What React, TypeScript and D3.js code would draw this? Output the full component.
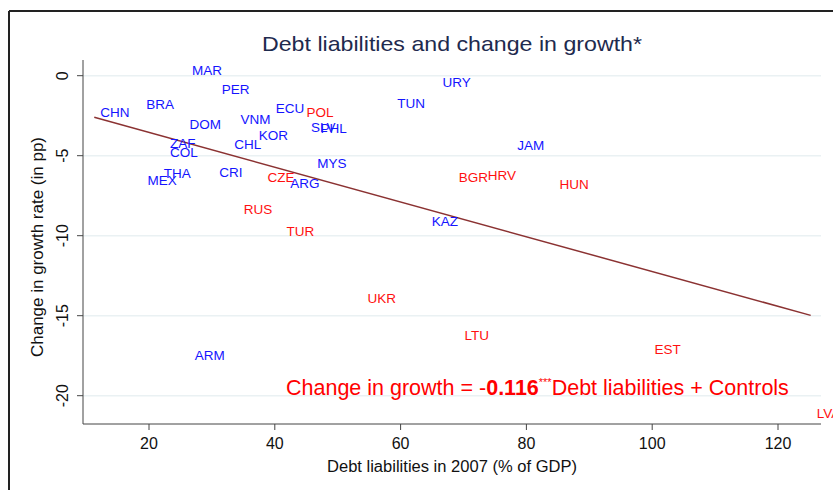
import React from "react";
import * as d3 from "d3";

const countries = ["MAR","PER","BRA","CHN","DOM","VNM","ECU","POL","SLV","PHL","KOR","CHL","ZAF","COL","MYS","THA","MEX","CRI","CZE","ARG","TUN","RUS","TUR","KAZ","URY","JAM","BGR","HRV","HUN","UKR","LTU","EST","ARM","LVA"];
const debtLiab = [25.9,30.6,18.6,11.3,25.5,33.6,39.2,44.1,44.8,46.3,36.5,32.6,22.4,22.4,45.8,21.4,18.8,30.2,37.9,41.5,58.5,34.1,40.9,64.0,65.7,77.6,68.3,72.9,84.3,53.8,69.2,99.4,26.3,125.2];
const growthChange = [0.36,-0.85,-1.79,-2.29,-3.06,-2.71,-2.04,-2.31,-3.22,-3.3,-3.75,-4.27,-4.23,-4.81,-5.5,-6.1,-6.52,-6.06,-6.33,-6.73,-1.73,-8.35,-9.75,-9.08,-0.44,-4.33,-6.35,-6.21,-6.77,-13.9,-16.2,-17.1,-17.5,-21.1];
const emerging = [1,1,1,1,1,1,1,0,1,1,1,1,1,1,1,1,1,1,0,1,1,0,0,1,1,1,0,0,0,0,0,0,1,0];
const fitLine = { intercept: -1.37, slope: -0.1087 };
const xTicks = [20, 40, 60, 80, 100, 120];
const yTicks = [0, -5, -10, -15, -20];

const W = 833, H = 490;
const FONT = "'Liberation Sans', Arial, sans-serif";

export default function App() {
  const x = d3.scaleLinear().domain([20, 120]).range([149, 778]);
  const y = d3.scaleLinear().domain([0, -20]).range([75.7, 395.7]);
  const left = 83, right = 821, top = 60, bottom = 424;
  const xMin = d3.min(debtLiab)!, xMax = d3.max(debtLiab)!;
  const fit = (v: number) => fitLine.intercept + fitLine.slope * v;
  const lineGen = d3.line<number>().x((d) => x(d)).y((d) => y(fit(d)));

  return (
    <svg width={W} height={H} style={{ position: "absolute", left: 0, top: 0, background: "#fff" }} fontFamily={FONT}>
      <rect x={0} y={0} width={W} height={H} fill="#fff" />
      {/* frame */}
      <line x1={9} y1={11} x2={W} y2={11} stroke="#222" strokeWidth={2} />
      <line x1={9} y1={11} x2={9} y2={H} stroke="#222" strokeWidth={2} />
      {/* gridlines */}
      {yTicks.map((t) => (
        <line key={"g" + t} x1={left} x2={right} y1={y(t)} y2={y(t)} stroke="#eaf1f3" strokeWidth={1.5} />
      ))}
      {/* axes */}
      <line x1={left} x2={left} y1={top} y2={bottom} stroke="#444" strokeWidth={1} />
      <line x1={left} x2={right} y1={bottom} y2={bottom} stroke="#444" strokeWidth={1} />
      {yTicks.map((t) => (
        <g key={"yt" + t}>
          <line x1={left - 6} x2={left} y1={y(t)} y2={y(t)} stroke="#444" />
          <text transform={`translate(${left - 15},${y(t)}) rotate(-90)`} textAnchor="middle" fontSize={16} fill="#111">{t}</text>
        </g>
      ))}
      {xTicks.map((t) => (
        <g key={"xt" + t}>
          <line x1={x(t)} x2={x(t)} y1={bottom} y2={bottom + 6} stroke="#444" />
          <text x={x(t)} y={bottom + 25} textAnchor="middle" fontSize={16} fill="#111">{t}</text>
        </g>
      ))}
      {/* axis titles */}
      <text transform={`translate(43,247) rotate(-90)`} textAnchor="middle" fontSize={16} textLength={220} lengthAdjust="spacingAndGlyphs" fill="#111">Change in growth rate (in pp)</text>
      <text x={452} y={472} textAnchor="middle" fontSize={16} textLength={250} lengthAdjust="spacingAndGlyphs" fill="#111">Debt liabilities in 2007 (% of GDP)</text>
      {/* title */}
      <text x={452} y={51} textAnchor="middle" fontSize={21} textLength={380} lengthAdjust="spacingAndGlyphs" fill="#1e2a4e">Debt liabilities and change in growth*</text>
      {/* fit line */}
      <path d={lineGen([xMin, xMax]) || ""} fill="none" stroke="#8b3232" strokeWidth={1.5} />
      {/* labels */}
      {countries.map((c, i) => (
        <text key={c} x={x(debtLiab[i]) + 6} y={y(growthChange[i])} dy="0.35em" fontSize={13.5}
          fill={emerging[i] ? "#1414ff" : "#ff1010"}>{c}</text>
      ))}
      {/* equation */}
      <text x={286} y={395} fontSize={21.5} fill="#ff0000">
        Change in growth = -<tspan fontWeight="bold">0.116</tspan><tspan fontSize={11} dy={-9}>***</tspan><tspan dy={9}>Debt liabilities + Controls</tspan>
      </text>
    </svg>
  );
}
